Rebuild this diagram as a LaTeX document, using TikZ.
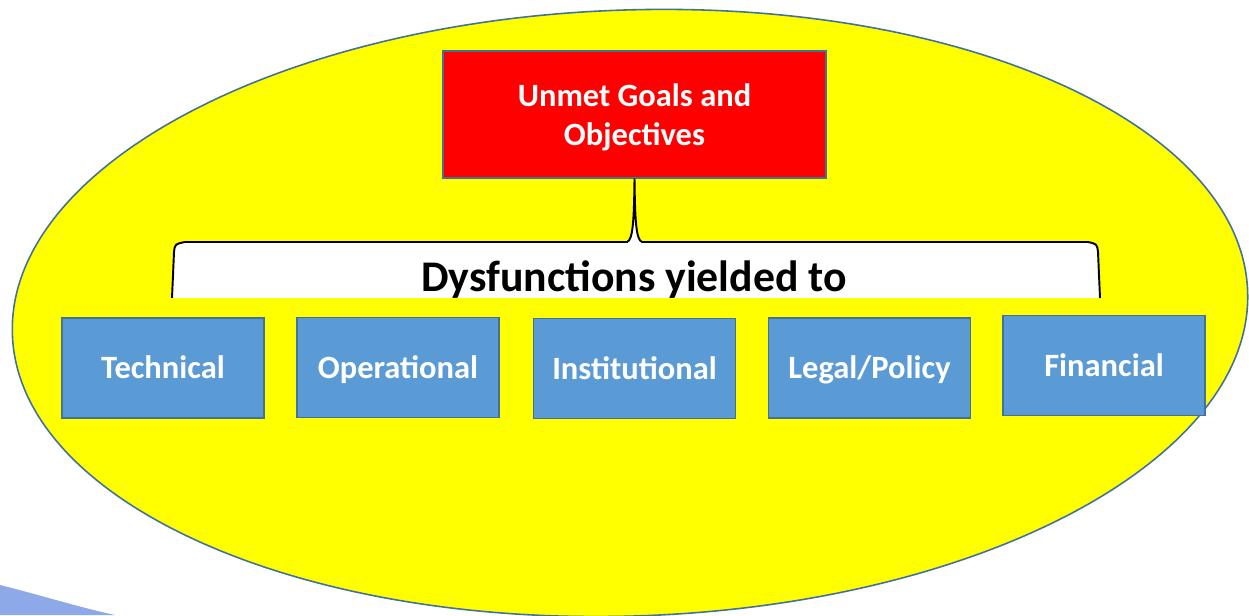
\documentclass[tikz,border=0pt]{standalone}
\usepackage{fontspec}
\setmainfont{Carlito}
\usepackage{tikz}
\usepackage{xcolor}
\usetikzlibrary{positioning}
\definecolor{ovalyellow}{HTML}{FFFF00}
\definecolor{goalred}{HTML}{FF0000}
\definecolor{areablue}{HTML}{5B9BD5}
\definecolor{edgeblue}{HTML}{41719C}
\definecolor{cornerblue}{HTML}{8EA9E8}

\begin{document}
\begin{tikzpicture}[
      x=1cm, y=1cm,
      goal/.style={draw=edgeblue, fill=goalred, text=white, font=\bfseries\fontsize{18.5}{22}\selectfont, minimum width=7.66cm, minimum height=2.54cm, align=center, line width=0.8pt},
      area/.style={draw=edgeblue, fill=areablue, text=white, font=\bfseries\fontsize{18.5}{22}\selectfont, text height=13pt, text depth=0.5pt, minimum width=4.04cm, minimum height=2.0cm, align=center, line width=0.8pt},
      brace/.style={draw=black, fill=white, line width=1.1pt}
    ]
      \clip (0,0) rectangle (24.98,12.3);
      \useasboundingbox (0,0) rectangle (24.98,12.3);

      % background shapes
      \fill[cornerblue] (0,0.6) .. controls (0.8,0.4) and (1.6,0.15) .. (2.3,0) -- (0,0) -- cycle;
      \draw[edgeblue, fill=ovalyellow, line width=0.9pt, rotate around={2:(12.6,6.04)}] (12.6,6.04) ellipse (12.36 and 6.06);

      \node[goal] (unmet) at (12.69,10.01) {\rule{0pt}{16pt}Unmet Goals and\\Objectives};

      % brace under the goal box
      \coordinate (bl) at (3.44,6.34);
      \coordinate (br) at (22.0,6.34);
      \draw[brace] (bl) -- (3.48,7.26) .. controls (3.50,7.42) .. (3.70,7.46)
        -- (12.54,7.46) .. controls (12.66,7.50) and (12.68,7.9) .. (unmet.south)
        .. controls (12.70,7.9) and (12.72,7.50) .. (12.84,7.46)
        -- (21.76,7.46) .. controls (21.94,7.42) .. (21.96,7.26) -- (br);
      \node[anchor=base, font=\bfseries\fontsize{24.9}{29}\selectfont] (dysf) at (12.68,6.46) {Dysfunctions yielded to};

      \node[area] (technical) at (3.26,4.94) {Technical};
      \node[area] (operational) at (7.96,4.95) {Operational};
      \node[area] (institutional) at (12.69,4.93) {Institutional};
      \node[area] (legal) at (17.39,4.94) {Legal/Policy};
      \node[area] (financial) at (22.08,4.99) {Financial};
    \end{tikzpicture}
\end{document}
